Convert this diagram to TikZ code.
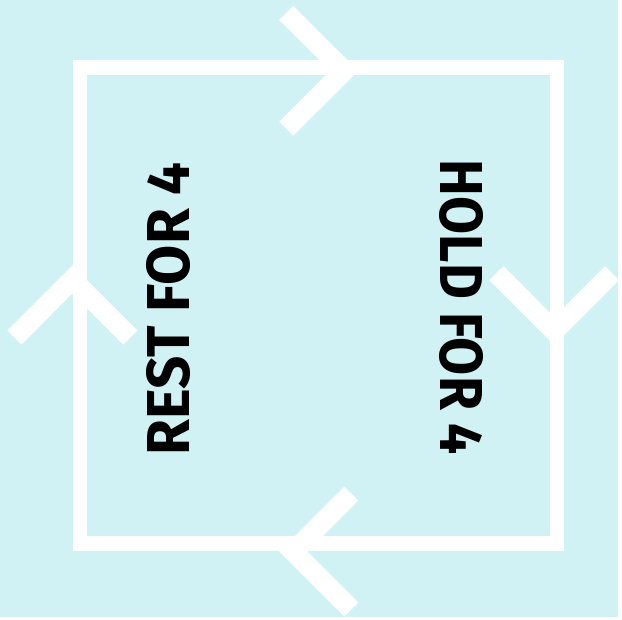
\documentclass[tikz,border=0pt]{standalone}
\usepackage{fontspec}
\setmainfont{Fira Sans}
\definecolor{pale}{RGB}{208,242,244}

\begin{document}
\begin{tikzpicture}[x=1pt,y=-1pt,
        frame/.style={white,line width=15pt,line join=miter},
        chevron/.style={white,line width=20pt,line join=miter,line cap=butt},
        word/.style={font=\fontsize{61}{61}\selectfont\bfseries,text=black,inner sep=0pt}]
        \fill[pale](0, 0) rectangle (622, 621);
        \draw[frame](80.5, 67.5) rectangle (560.5, 546.5);
        \draw[chevron](288, 13) -- (346.4, 71.2) -- (288, 129.5);
        \draw[chevron](499.5, 274.8) -- (557.7, 333.2) -- (615.9, 274.8);
        \draw[chevron](353.5, 496.7) -- (295.1, 555) -- (353.5, 613.3);
        \draw[chevron](14.5, 339.7) -- (72.8, 281.3) -- (131.1, 339.7);
        \node[word,rotate=90] (rest) at (170, 311) {\scalebox{0.96}[1]{REST FOR 4}};
        \node[word,rotate=-90] (hold) at (464, 309) {\scalebox{0.91}[1]{HOLD FOR 4}};
    \end{tikzpicture}
\end{document}
